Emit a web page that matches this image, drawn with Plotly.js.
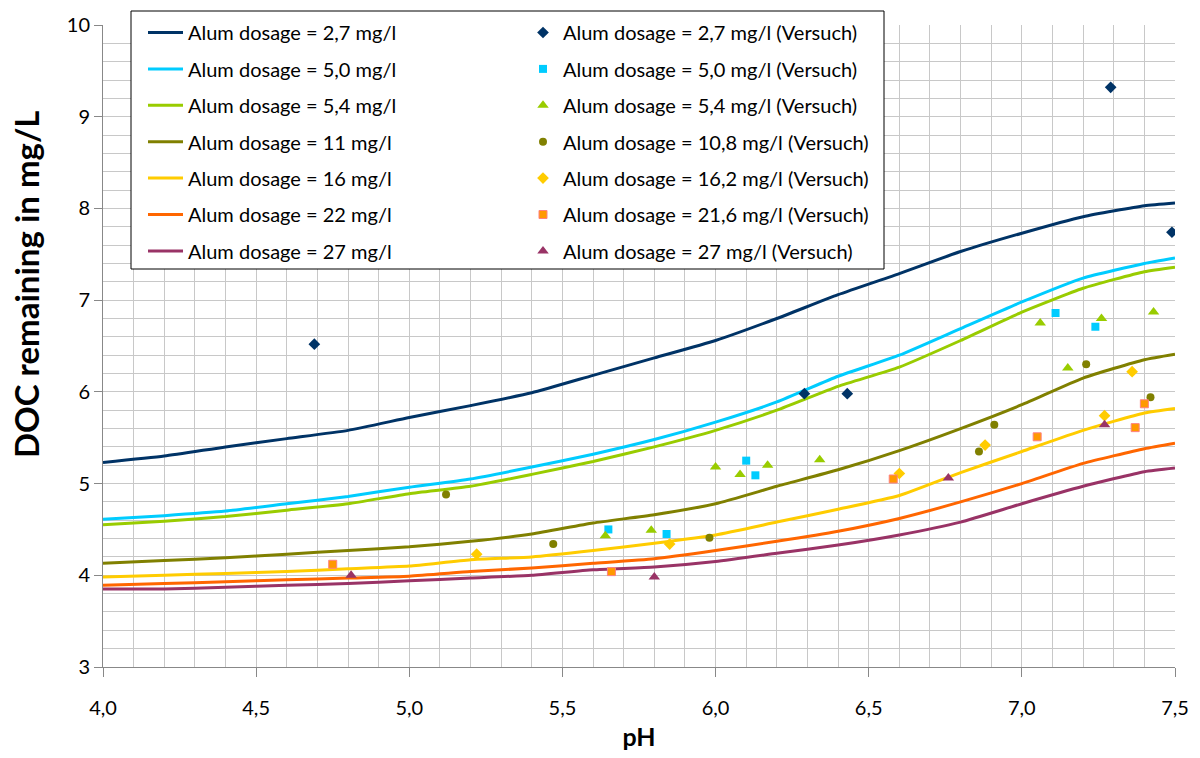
<!DOCTYPE html>
<html>
<head>
<meta charset="utf-8">
<script src="https://cdn.plot.ly/plotly-3.0.1.min.js"></script>
<style>html,body{margin:0;padding:0;background:#fff;}#chart{width:1200px;height:758px;}</style>
</head>
<body>
<div id="chart"></div>
<script>
// Model curves (pH grid)
const pHCurve = [4.0, 4.2, 4.4, 4.6, 4.8, 5.0, 5.2, 5.4, 5.6, 5.8, 6.0, 6.2, 6.4, 6.6, 6.8, 7.0, 7.2, 7.4, 7.5];
const doc27  = [5.23, 5.30, 5.40, 5.49, 5.58, 5.72, 5.85, 5.99, 6.18, 6.37, 6.56, 6.80, 7.06, 7.29, 7.53, 7.73, 7.91, 8.03, 8.06];
const doc50  = [4.61, 4.65, 4.70, 4.78, 4.86, 4.96, 5.05, 5.18, 5.32, 5.48, 5.67, 5.89, 6.17, 6.40, 6.69, 6.98, 7.24, 7.40, 7.46];
const doc54  = [4.55, 4.59, 4.64, 4.71, 4.78, 4.89, 4.97, 5.10, 5.24, 5.40, 5.58, 5.80, 6.06, 6.27, 6.56, 6.87, 7.13, 7.31, 7.36];
const doc11  = [4.13, 4.16, 4.19, 4.23, 4.27, 4.31, 4.37, 4.45, 4.57, 4.66, 4.78, 4.97, 5.15, 5.36, 5.60, 5.86, 6.15, 6.35, 6.41];
const doc16  = [3.98, 4.00, 4.02, 4.04, 4.07, 4.10, 4.17, 4.20, 4.27, 4.35, 4.44, 4.58, 4.72, 4.87, 5.12, 5.35, 5.58, 5.77, 5.82];
const doc22  = [3.89, 3.91, 3.93, 3.95, 3.97, 3.99, 4.04, 4.08, 4.13, 4.18, 4.27, 4.37, 4.48, 4.62, 4.80, 5.00, 5.22, 5.38, 5.44];
const doc27b = [3.85, 3.85, 3.87, 3.89, 3.91, 3.94, 3.97, 4.00, 4.06, 4.09, 4.15, 4.24, 4.33, 4.44, 4.58, 4.78, 4.97, 5.13, 5.17];

// Experimental points (Versuch)
const exp27_x  = [4.69, 6.29, 6.43, 7.29, 7.49];
const exp27_y  = [6.52, 5.98, 5.98, 9.32, 7.74];
const exp50_x  = [5.65, 5.84, 6.10, 6.13, 7.11, 7.24];
const exp50_y  = [4.50, 4.45, 5.25, 5.09, 6.86, 6.71];
const exp54_x  = [5.64, 5.79, 6.00, 6.08, 6.17, 6.34, 7.06, 7.15, 7.26, 7.43];
const exp54_y  = [4.43, 4.49, 5.18, 5.10, 5.20, 5.26, 6.75, 6.26, 6.80, 6.87];
const exp108_x = [5.12, 5.47, 5.98, 6.86, 6.91, 7.21, 7.42];
const exp108_y = [4.88, 4.34, 4.41, 5.35, 5.64, 6.30, 5.94];
const exp162_x = [5.22, 5.85, 6.60, 6.88, 7.27, 7.36];
const exp162_y = [4.23, 4.34, 5.11, 5.42, 5.74, 6.22];
const exp216_x = [4.75, 5.66, 6.58, 7.05, 7.37, 7.40];
const exp216_y = [4.12, 4.04, 5.05, 5.51, 5.61, 5.87];
const exp27b_x = [4.81, 5.80, 6.76, 7.27];
const exp27b_y = [4.00, 3.98, 5.06, 5.64];

const lineNames = ['Alum dosage = 2,7 mg/l','Alum dosage = 5,0 mg/l','Alum dosage = 5,4 mg/l','Alum dosage = 11 mg/l','Alum dosage = 16 mg/l','Alum dosage = 22 mg/l','Alum dosage = 27 mg/l'];
const ptNames = ['Alum dosage = 2,7 mg/l (Versuch)','Alum dosage = 5,0 mg/l (Versuch)','Alum dosage = 5,4 mg/l (Versuch)','Alum dosage = 10,8 mg/l (Versuch)','Alum dosage = 16,2 mg/l (Versuch)','Alum dosage = 21,6 mg/l (Versuch)','Alum dosage = 27 mg/l (Versuch)'];
const colors = ['#003366','#00CCFF','#99CC00','#808000','#FFCC00','#FF6600','#993366'];
const ptColors = ['#003366','#00CCFF','#99CC00','#808000','#FFCC00','#FF9900','#993366'];
const symbols = ['diamond','square','triangle-up','circle','diamond','square','triangle-up'];
const symSize = {diamond: 9, square: 8, 'triangle-up': 10, circle: 8};

const curves = [doc27, doc50, doc54, doc11, doc16, doc22, doc27b];
const expX = [exp27_x, exp50_x, exp54_x, exp108_x, exp162_x, exp216_x, exp27b_x];
const expY = [exp27_y, exp50_y, exp54_y, exp108_y, exp162_y, exp216_y, exp27b_y];

const traces = [];
curves.forEach((c, i) => {
  traces.push({
    x: pHCurve, y: c, type: 'scatter', mode: 'lines', name: lineNames[i],
    line: {color: colors[i], width: 3, shape: 'spline', smoothing: 0.5},
    legend: 'legend', legendgroup: 'l' + i
  });
});
expX.forEach((xs, i) => {
  traces.push({
    x: xs, y: expY[i], type: 'scatter', mode: 'markers', name: ptNames[i],
    marker: {color: ptColors[i], symbol: symbols[i], size: symSize[symbols[i]],
             line: {width: i === 5 ? 1 : 0, color: '#FF8080'}},
    legend: 'legend2', legendgroup: 'p' + i
  });
});

const gridC = '#c8c8c8';
const fam = 'Lato, "Open Sans", sans-serif';
const layout = {
  width: 1200, height: 758,
  margin: {l: 103, r: 25, t: 25, b: 91},
  paper_bgcolor: '#fff', plot_bgcolor: '#fff',
  font: {family: fam, size: 20, color: '#000'},
  separators: ',.',
  showlegend: true,
  xaxis: {
    range: [4, 7.5], dtick: 0.5, tick0: 4, tickformat: '.1f',
    showgrid: true, gridcolor: gridC, gridwidth: 1,
    minor: {dtick: 0.1, showgrid: true, gridcolor: gridC, gridwidth: 1},
    ticks: 'outside', ticklen: 9, tickcolor: '#888', tickwidth: 1,
    showline: true, linecolor: '#888', linewidth: 1, zeroline: false,
    tickfont: {size: 20}, ticklabelstandoff: 14,
    title: {text: '<b>pH</b>', font: {size: 25}, standoff: 10}
  },
  yaxis: {
    range: [3, 10], dtick: 1, tick0: 3,
    showgrid: true, gridcolor: gridC, gridwidth: 1,
    minor: {dtick: 0.2, showgrid: true, gridcolor: gridC, gridwidth: 1},
    ticks: 'outside', ticklen: 8, tickcolor: '#888', tickwidth: 1,
    showline: true, linecolor: '#888', linewidth: 1, zeroline: false,
    tickfont: {size: 20}
  },
  annotations: [{
    text: '<b>DOC remaining in mg/L</b>', textangle: -90,
    xref: 'paper', yref: 'paper',
    x: (26 - 103) / 1072, y: (667 - 285) / 642,
    xanchor: 'center', yanchor: 'middle', showarrow: false,
    font: {size: 33, family: fam, color: '#000'}
  }],
  shapes: [{
    type: 'rect', xref: 'paper', yref: 'paper', layer: 'above',
    x0: (131 - 103) / 1072, x1: (884 - 103) / 1072,
    y0: (667 - 269) / 642, y1: (667 - 11) / 642,
    fillcolor: '#fff', line: {color: '#000', width: 1}
  }],
  legend: {
    x: (143 - 103) / 1072, y: (667 - 13) / 642, xanchor: 'left', yanchor: 'top',
    bgcolor: 'rgba(0,0,0,0)', borderwidth: 0,
    font: {size: 20, family: fam},
    tracegroupgap: 7.4, itemwidth: 35, traceorder: 'grouped'
  },
  legend2: {
    x: (523 - 103) / 1072, y: (667 - 13) / 642, xanchor: 'left', yanchor: 'top',
    bgcolor: 'rgba(0,0,0,0)', borderwidth: 0,
    font: {size: 20, family: fam},
    tracegroupgap: 7.4, itemwidth: 30, traceorder: 'grouped'
  }
};

Plotly.newPlot('chart', traces, layout, {displayModeBar: false, staticPlot: true});
</script>
</body>
</html>
